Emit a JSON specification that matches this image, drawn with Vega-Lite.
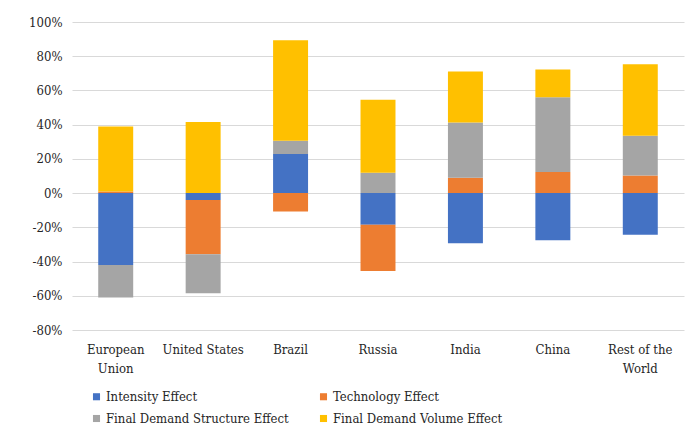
{
  "$schema": "https://vega.github.io/schema/vega-lite/v6.json",
  "width": 612,
  "height": 308,
  "autosize": {"type": "none"},
  "padding": {"left": 72, "top": 22, "right": 13, "bottom": 95},
  "background": "white",
  "config": {
    "view": {"stroke": null},
    "font": "DejaVu Serif Condensed",
    "axis": {"labelFont": "DejaVu Serif Condensed", "labelFontSize": 13, "labelColor": "#262626"},
    "legend": {"labelFont": "DejaVu Serif Condensed", "labelFontSize": 13, "labelColor": "#262626"}
  },
  "datasets": {
    "effects": [
      {"effect": "Intensity Effect", "rank": 1},
      {"effect": "Technology Effect", "rank": 2},
      {"effect": "Final Demand Structure Effect", "rank": 3},
      {"effect": "Final Demand Volume Effect", "rank": 4}
    ]
  },
  "data": {
    "values": [
      {"region": "European Union", "effect": "Intensity Effect", "value": -0.42},
      {"region": "European Union", "effect": "Technology Effect", "value": 0.01},
      {"region": "European Union", "effect": "Final Demand Structure Effect", "value": -0.19},
      {"region": "European Union", "effect": "Final Demand Volume Effect", "value": 0.38},
      {"region": "United States", "effect": "Intensity Effect", "value": -0.04},
      {"region": "United States", "effect": "Technology Effect", "value": -0.317},
      {"region": "United States", "effect": "Final Demand Structure Effect", "value": -0.228},
      {"region": "United States", "effect": "Final Demand Volume Effect", "value": 0.415},
      {"region": "Brazil", "effect": "Intensity Effect", "value": 0.228},
      {"region": "Brazil", "effect": "Technology Effect", "value": -0.107},
      {"region": "Brazil", "effect": "Final Demand Structure Effect", "value": 0.078},
      {"region": "Brazil", "effect": "Final Demand Volume Effect", "value": 0.587},
      {"region": "Russia", "effect": "Intensity Effect", "value": -0.185},
      {"region": "Russia", "effect": "Technology Effect", "value": -0.27},
      {"region": "Russia", "effect": "Final Demand Structure Effect", "value": 0.119},
      {"region": "Russia", "effect": "Final Demand Volume Effect", "value": 0.427},
      {"region": "India", "effect": "Intensity Effect", "value": -0.293},
      {"region": "India", "effect": "Technology Effect", "value": 0.09},
      {"region": "India", "effect": "Final Demand Structure Effect", "value": 0.323},
      {"region": "India", "effect": "Final Demand Volume Effect", "value": 0.297},
      {"region": "China", "effect": "Intensity Effect", "value": -0.275},
      {"region": "China", "effect": "Technology Effect", "value": 0.123},
      {"region": "China", "effect": "Final Demand Structure Effect", "value": 0.437},
      {"region": "China", "effect": "Final Demand Volume Effect", "value": 0.163},
      {"region": "Rest of the World", "effect": "Intensity Effect", "value": -0.244},
      {"region": "Rest of the World", "effect": "Technology Effect", "value": 0.103},
      {"region": "Rest of the World", "effect": "Final Demand Structure Effect", "value": 0.232},
      {"region": "Rest of the World", "effect": "Final Demand Volume Effect", "value": 0.418}
    ]
  },
  "transform": [
    {"lookup": "effect", "from": {"data": {"name": "effects"}, "key": "effect", "fields": ["rank"]}}
  ],
  "mark": {"type": "bar"},
  "encoding": {
    "x": {
      "field": "region",
      "type": "nominal",
      "sort": ["European Union", "United States", "Brazil", "Russia", "India", "China", "Rest of the World"],
      "scale": {"paddingInner": 0.6, "paddingOuter": 0.3},
      "axis": {
        "title": null,
        "labelAngle": 0,
        "ticks": false,
        "domain": false,
        "labelPadding": 13,
        "labelLineHeight": 19,
        "labelLimit": 0,
        "labelExpr": "datum.value == 'European Union' ? ['European', 'Union'] : datum.value == 'Rest of the World' ? ['Rest of the', 'World'] : datum.value"
      }
    },
    "y": {
      "field": "value",
      "type": "quantitative",
      "stack": "zero",
      "scale": {"domain": [-0.8, 1.0], "nice": false},
      "axis": {
        "title": null,
        "values": [-0.8, -0.6, -0.4, -0.2, 0, 0.2, 0.4, 0.6, 0.8, 1.0],
        "labelExpr": "replace(format(datum.value, '.0%'), '\u2212', '-')",
        "ticks": false,
        "domain": false,
        "gridColor": "#D9D9D9",
        "labelPadding": 10
      }
    },
    "order": {"field": "rank", "type": "quantitative", "sort": "ascending"},
    "color": {
      "field": "effect",
      "type": "nominal",
      "scale": {
        "domain": ["Intensity Effect", "Technology Effect", "Final Demand Structure Effect", "Final Demand Volume Effect"],
        "range": ["#4472C4", "#ED7D31", "#A5A5A5", "#FFC000"]
      },
      "legend": {
        "title": null,
        "orient": "none",
        "direction": "horizontal",
        "legendX": 18,
        "legendY": 368,
        "columns": 2,
        "columnPadding": 28,
        "rowPadding": 8,
        "labelLimit": 0,
        "symbolType": "square",
        "symbolSize": 50,
        "symbolStrokeWidth": 0,
        "labelOffset": 3
      }
    }
  }
}
